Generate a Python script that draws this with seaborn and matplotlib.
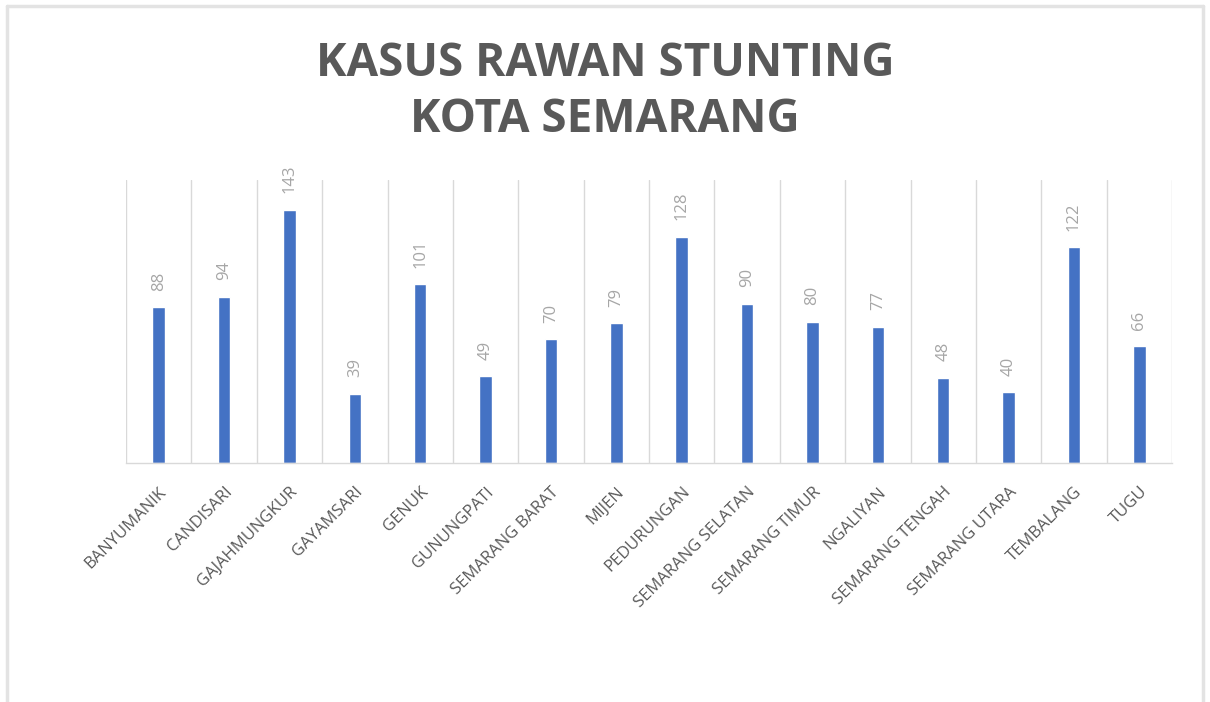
import matplotlib
matplotlib.use("Agg")
import matplotlib.pyplot as plt
import seaborn as sns
import pandas as pd
from matplotlib.lines import Line2D

# data
kecamatan = [
    "BANYUMANIK", "CANDISARI", "GAJAHMUNGKUR", "GAYAMSARI", "GENUK",
    "GUNUNGPATI", "SEMARANG BARAT", "MIJEN", "PEDURUNGAN",
    "SEMARANG SELATAN", "SEMARANG TIMUR", "NGALIYAN", "SEMARANG TENGAH",
    "SEMARANG UTARA", "TEMBALANG", "TUGU",
]
kasus = [88, 94, 143, 39, 101, 49, 70, 79, 128, 90, 80, 77, 48, 40, 122, 66]
title_lines = ["KASUS RAWAN STUNTING", "KOTA SEMARANG"]

df = pd.DataFrame({"kecamatan": kecamatan, "kasus": kasus})

sns.set_style("white")
plt.rcParams["font.family"] = ["Open Sans", "DejaVu Sans"]

fig = plt.figure(figsize=(12.1, 7.02), dpi=100)
ax = fig.add_axes([126 / 1210, 1 - 463 / 702, (1172 - 126) / 1210, (463 - 180) / 702])

sns.barplot(data=df, x="kecamatan", y="kasus", color="#4472C4",
            width=0.19, saturation=1, ax=ax)

ax.set_ylim(0, 160)
ax.set_xlim(-0.5, len(kecamatan) - 0.5)
ax.set_xlabel("")
ax.set_ylabel("")
ax.set_yticks([])

# vertical category gridlines like excel
for i in range(len(kecamatan) + 1):
    ax.axvline(i - 0.5, color="#d9d9d9", lw=1, zorder=0)

for side in ["top", "right", "left"]:
    ax.spines[side].set_visible(False)
ax.spines["bottom"].set_color("#d9d9d9")
ax.spines["bottom"].set_linewidth(1)

ax.bar_label(ax.containers[0], rotation=90, padding=12, color="#a6a6a6",
             fontsize=12)

ax.tick_params(axis="x", length=0, pad=15)
ax.set_xticks(range(len(kecamatan)))
ax.set_xticklabels(kecamatan, rotation=45, ha="right", rotation_mode="anchor",
                   color="#595959", fontsize=12)

fig.text(0.5, 1 - 92 / 702, "\n".join(title_lines), ha="center", va="center",
         fontsize=33, fontweight="bold", color="#595959", linespacing=1.25)

# chart area border
for coords in [([7 / 1210, 1203 / 1210], [1 - 6 / 702] * 2),
               ([7 / 1210] * 2, [0, 1 - 6 / 702]),
               ([1203 / 1210] * 2, [0, 1 - 6 / 702])]:
    fig.add_artist(Line2D(coords[0], coords[1], color="#e3e3e3", lw=2.5,
                          transform=fig.transFigure))

fig.savefig("out.png", dpi=100)
